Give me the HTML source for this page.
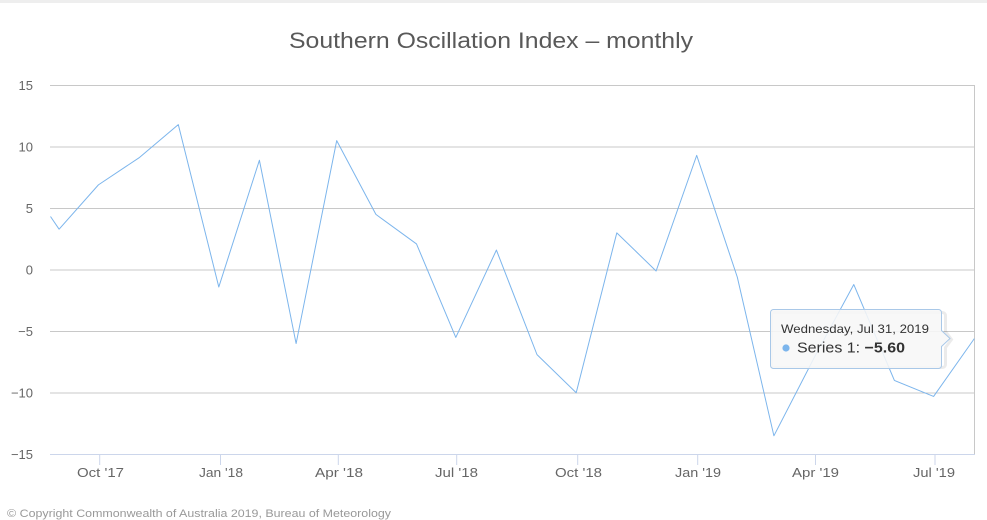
<!DOCTYPE html>
<html><head><meta charset="utf-8"><style>
html,body{margin:0;padding:0;background:#fff;}
svg{display:block;}
text{font-family:"Liberation Sans","DejaVu Sans",sans-serif;}
</style></head><body>
<svg width="987" height="520" viewBox="0 0 987 520" xmlns="http://www.w3.org/2000/svg">
<rect x="0" y="0" width="987" height="520" fill="#ffffff"/>
<rect x="0" y="0" width="987" height="3" fill="#eeeeee"/>
<text x="289" y="48" font-size="22" fill="#595959" textLength="404" lengthAdjust="spacingAndGlyphs">Southern Oscillation Index – monthly</text>
<g stroke="#c8c8c8" stroke-width="1" fill="none">
<line x1="50" y1="85.5" x2="975" y2="85.5"/>
<line x1="50" y1="147" x2="975" y2="147"/>
<line x1="50" y1="208.5" x2="975" y2="208.5"/>
<line x1="50" y1="270" x2="975" y2="270"/>
<line x1="50" y1="331.5" x2="975" y2="331.5"/>
<line x1="50" y1="393" x2="975" y2="393"/>
<line x1="974.5" y1="85" x2="974.5" y2="454"/>
</g>
<g stroke="#ccd6eb" stroke-width="1">
<line x1="50" y1="454.5" x2="975" y2="454.5"/>
<line x1="99.7" y1="455" x2="99.7" y2="465"/>
<line x1="220.5" y1="455" x2="220.5" y2="465"/>
<line x1="338.3" y1="455" x2="338.3" y2="465"/>
<line x1="456.7" y1="455" x2="456.7" y2="465"/>
<line x1="577.7" y1="455" x2="577.7" y2="465"/>
<line x1="697.7" y1="455" x2="697.7" y2="465"/>
<line x1="815.5" y1="455" x2="815.5" y2="465"/>
<line x1="935" y1="455" x2="935" y2="465"/>
</g>
<g font-size="13" fill="#666" text-anchor="end">
<text x="33" y="90">15</text>
<text x="33" y="151.5">10</text>
<text x="33" y="213">5</text>
<text x="33" y="274.5">0</text>
<text x="33" y="336">−5</text>
<text x="33" y="397.5">−10</text>
<text x="33" y="459">−15</text>
</g>
<g font-size="13" fill="#666">
<text x="77" y="477" textLength="47" lengthAdjust="spacingAndGlyphs">Oct '17</text>
<text x="199" y="477" textLength="44" lengthAdjust="spacingAndGlyphs">Jan '18</text>
<text x="315" y="477" textLength="48" lengthAdjust="spacingAndGlyphs">Apr '18</text>
<text x="435" y="477" textLength="43" lengthAdjust="spacingAndGlyphs">Jul '18</text>
<text x="555" y="477" textLength="47" lengthAdjust="spacingAndGlyphs">Oct '18</text>
<text x="675" y="477" textLength="46" lengthAdjust="spacingAndGlyphs">Jan '19</text>
<text x="792" y="477" textLength="47" lengthAdjust="spacingAndGlyphs">Apr '19</text>
<text x="913" y="477" textLength="42" lengthAdjust="spacingAndGlyphs">Jul '19</text>
</g>
<polyline fill="none" stroke="#7cb5ec" stroke-width="1" stroke-linejoin="round" points="50.5,216.5 59.1,229.16 98.4,184.88 139.0,157.82 178.3,124.61 218.8,286.97 259.4,160.28 296.1,343.55 336.7,140.60 375.9,214.40 416.5,243.92 455.8,337.40 496.4,250.07 537.0,354.62 576.2,392.75 616.8,232.85 656.1,270.98 696.7,155.36 737.3,277.13 773.9,435.80 814.5,357.08 853.8,284.51 894.4,380.45 933.6,396.44 974.3,338.63"/>
<text x="7" y="517" font-size="11" fill="#999" textLength="384" lengthAdjust="spacingAndGlyphs">© Copyright Commonwealth of Australia 2019, Bureau of Meteorology</text>
<g>
<path d="M773.5,311.5 h168 a3,3 0 0 1 3,3 v16 l6,8 l-6,8 v17 a3,3 0 0 1 -3,3 h-168 a3,3 0 0 1 -3,-3 v-49 a3,3 0 0 1 3,-3 z" fill="none" stroke="#000" stroke-opacity="0.08" stroke-width="3" transform="translate(1,1)"/>
<path d="M773.5,309.5 h165 a3,3 0 0 1 3,3 v18 l8.5,8 l-8.5,8 v19 a3,3 0 0 1 -3,3 h-165 a3,3 0 0 1 -3,-3 v-53 a3,3 0 0 1 3,-3 z" fill="#f7f7f7" fill-opacity="0.88" stroke="#a9c8e8" stroke-width="1"/>
<text x="781" y="333" font-size="12" fill="#333" textLength="148" lengthAdjust="spacingAndGlyphs">Wednesday, Jul 31, 2019</text>
<circle cx="786" cy="348" r="3.6" fill="#7cb5ec"/>
<text x="797" y="352.5" font-size="15" fill="#333" textLength="108" lengthAdjust="spacingAndGlyphs">Series 1: <tspan font-weight="bold">−5.60</tspan></text>
</g>
</svg>
</body></html>
